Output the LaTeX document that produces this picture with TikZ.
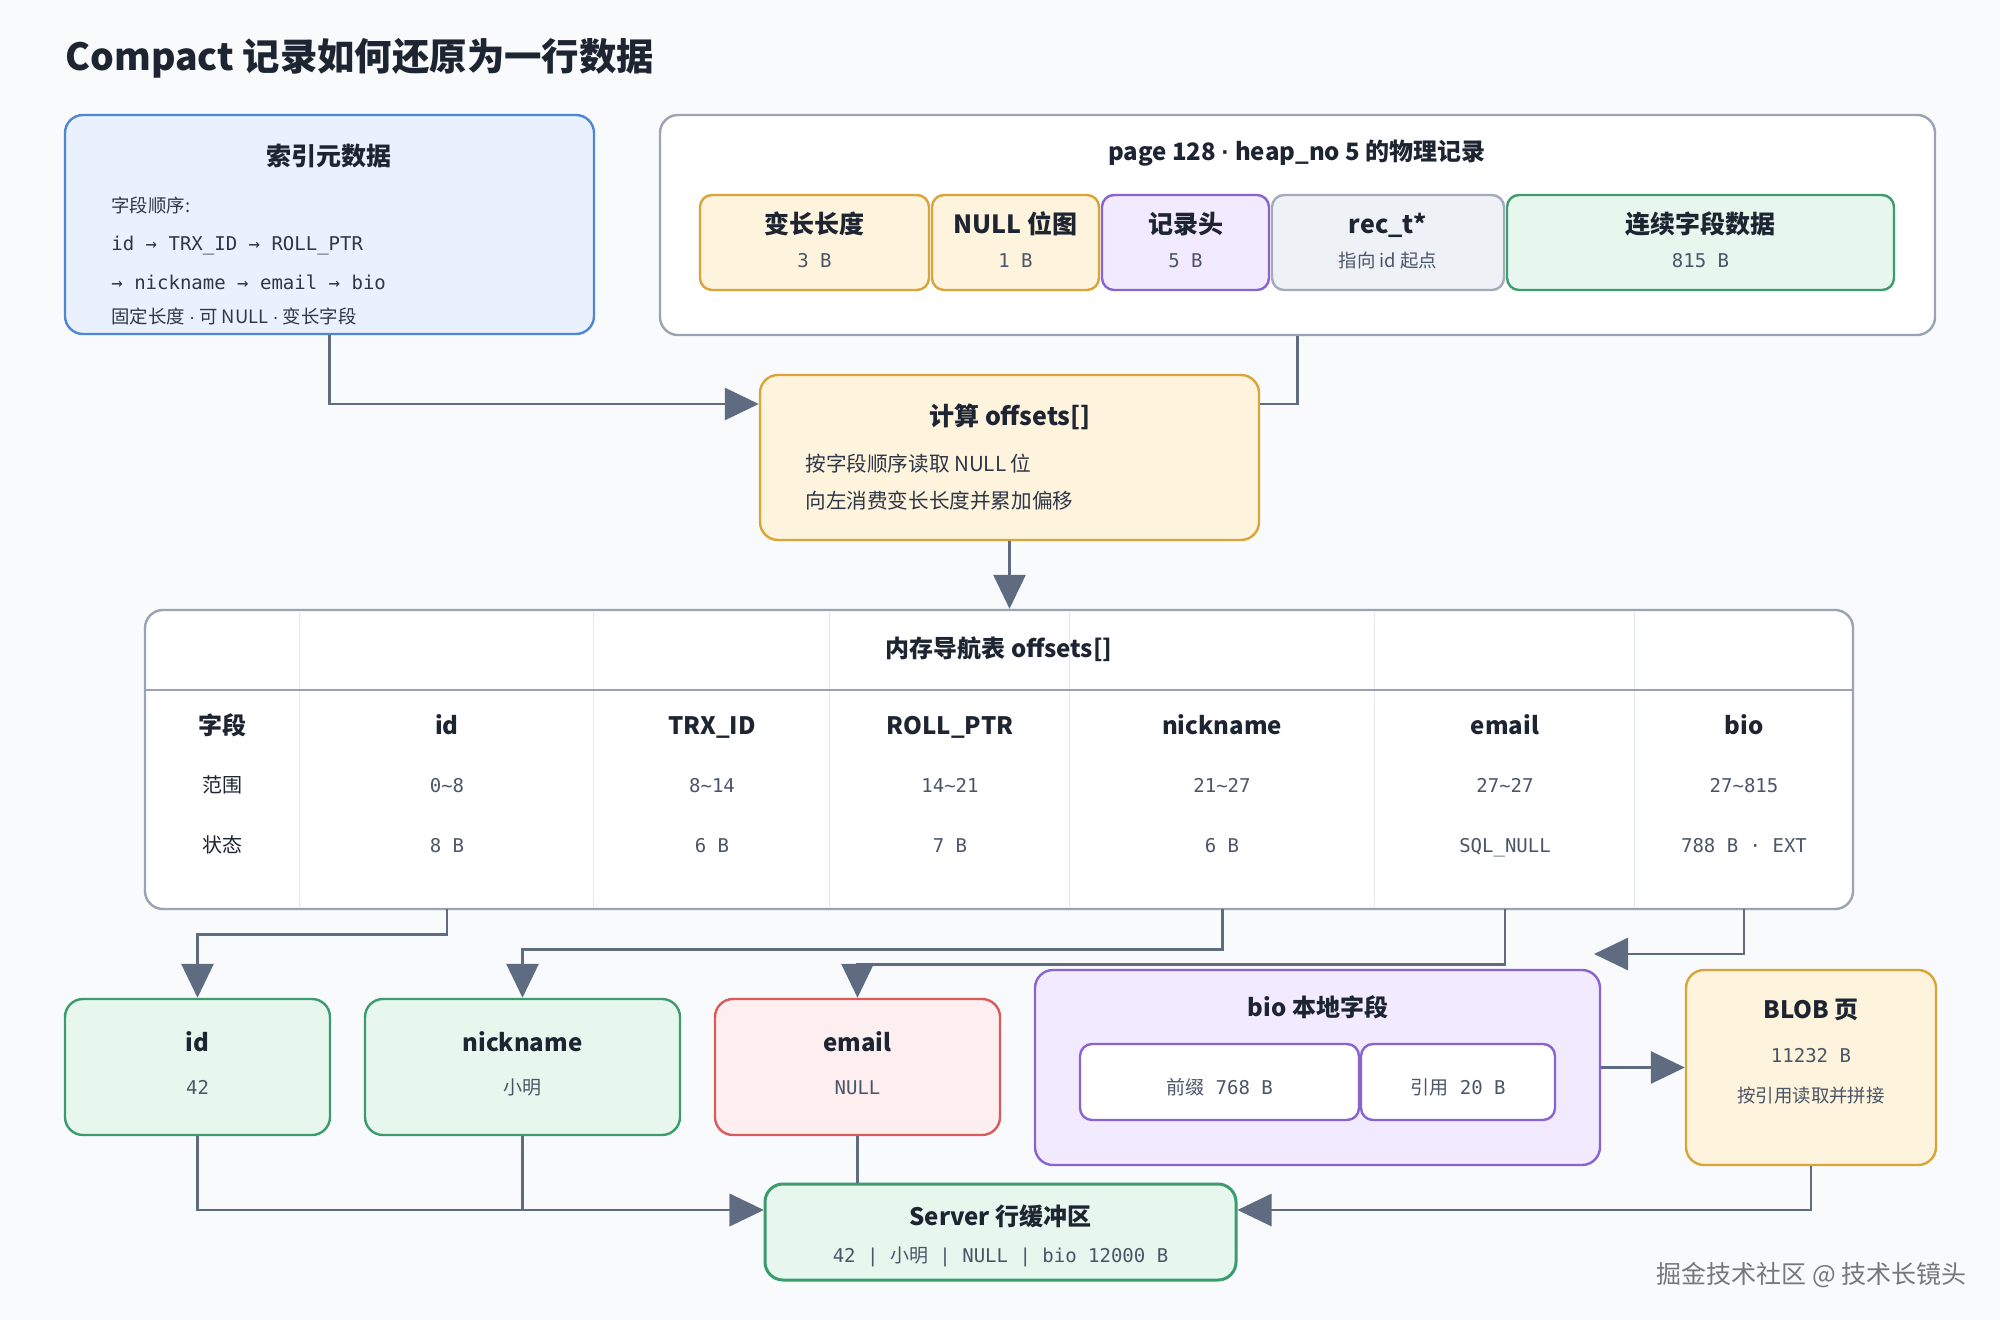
\documentclass[tikz,border=0pt]{standalone}
\usepackage{fontspec}
\setmainfont{Noto Sans CJK SC}
\newfontfamily\mono{DejaVu Sans Mono}
\newfontfamily\latin{Liberation Sans}
\newcommand{\mdot}{{\latin\textperiodcentered}}
\usetikzlibrary{fit,arrows.meta}
\definecolor{bgc}{HTML}{F8FAFC}
\definecolor{ink}{HTML}{1E2532}
\definecolor{subt}{HTML}{4A5568}
\definecolor{bodyc}{HTML}{2D3748}
\definecolor{bluef}{HTML}{E8F1FD}
\definecolor{bluel}{HTML}{4F86D6}
\definecolor{orf}{HTML}{FEF3DC}
\definecolor{orl}{HTML}{D9A43A}
\definecolor{puf}{HTML}{F2EBFF}
\definecolor{pul}{HTML}{8A63D2}
\definecolor{grf}{HTML}{EEF2F7}
\definecolor{grl}{HTML}{A3ABBA}
\definecolor{gnf}{HTML}{E7F7ED}
\definecolor{gnl}{HTML}{3D9C6E}
\definecolor{rdf}{HTML}{FDEFF0}
\definecolor{rdl}{HTML}{D95B5E}
\definecolor{framec}{HTML}{9AA3B3}
\definecolor{sepc}{HTML}{E3E8EF}
\definecolor{arrc}{HTML}{5E6B80}
\definecolor{wmc}{HTML}{777777}
\begin{document}
\begin{tikzpicture}[x=0.5pt,y=-0.5pt,
  box/.style={draw, rounded corners=9pt, line width=1.2pt, inner sep=0pt},
  sbox/.style={draw, rounded corners=6pt, line width=1.2pt, inner sep=0pt},
  bluebox/.style={fill=bluef, draw=bluel},
  orbox/.style={fill=orf, draw=orl},
  pubox/.style={fill=puf, draw=pul},
  grbox/.style={fill=grf, draw=grl},
  gnbox/.style={fill=gnf, draw=gnl},
  rdbox/.style={fill=rdf, draw=rdl},
  frbox/.style={fill=white, draw=framec},
  colf/.style={inner sep=0pt, draw=none},
  txt/.style={inner sep=0pt, text height=0.95em, text depth=0.05em},
  hd/.style={txt, font=\fontsize{12.5}{15}\selectfont\bfseries, text=ink},
  hdm/.style={txt, font=\fontsize{12}{14}\selectfont\bfseries, text=ink},
  sub/.style={txt, font=\mono\fontsize{9.5}{12}\selectfont, text=subt},
  subs/.style={txt, font=\fontsize{9.2}{11}\selectfont, text=subt},
  body/.style={txt, font=\fontsize{10.3}{12}\selectfont, text=bodyc, anchor=west},
  metab/.style={txt, font=\fontsize{9.2}{11}\selectfont, text=bodyc, anchor=west},
  metam/.style={txt, font=\mono\fontsize{9.5}{11}\selectfont, text=bodyc, anchor=west},
  rowl/.style={txt, font=\fontsize{10}{12}\selectfont, text=ink},
  conn/.style={draw=arrc, line width=1.4pt},
  arr/.style={conn, -{Triangle[length=17pt,width=16pt]}},
  sepl/.style={draw=sepc, line width=0.6pt, shorten >=1pt, shorten <=1pt},
]
\fill[bgc] (0,0) rectangle (2000,1320);
\useasboundingbox (0,0) rectangle (2000,1320);

% title
\node[txt, anchor=west, font=\fontsize{18.7}{22}\selectfont\bfseries, text=ink] (title) at (65,62) {Compact 记录如何还原为一行数据};

% metadata box
\node[box, bluebox, fit={(65,115) (594,334)}] (meta) {};
\node[hd] (metat) at (329,157) {索引元数据};
\node[metab] (m1) at (111,204) {字段顺序:};
\node[metam] (m2) at (111,242) {id → TRX\_ID → ROLL\_PTR};
\node[metam] (m3) at (111,281) {→ nickname → email → bio};
\node[metab] (m4) at (111,315) {固定长度 \mdot{} 可 NULL \mdot{} 变长字段};

% page box
\node[box, frbox, fit={(660,115) (1935,335)}] (page) {};
\node[hdm] (paget) at (1297,152) {page 128 \mdot{} heap\_no 5 的物理记录};
\node[sbox, orbox, fit={(700,195) (929,290)}] (v1) {};
\node[hd] (v1t) at (814.5,225) {变长长度};
\node[sub] (v1s) at (814.5,259) {3 B};
\node[sbox, orbox, fit={(932,195) (1099,290)}] (v2) {};
\node[hd] (v2t) at (1015.5,225) {NULL 位图};
\node[sub] (v2s) at (1015.5,259) {1 B};
\node[sbox, pubox, fit={(1102,195) (1269,290)}] (v3) {};
\node[hd] (v3t) at (1185.5,225) {记录头};
\node[sub] (v3s) at (1185.5,259) {5 B};
\node[sbox, grbox, fit={(1272,195) (1504,290)}] (v4) {};
\node[hd] (v4t) at (1388,225) {rec\_t*};
\node[subs] (v4s) at (1388,259) {指向 id 起点};
\node[sbox, gnbox, fit={(1507,195) (1894,290)}] (v5) {};
\node[hd] (v5t) at (1700.5,225) {连续字段数据};
\node[sub] (v5s) at (1700.5,259) {815 B};

% calc box
\node[box, orbox, fit={(760,375) (1259,540)}] (calc) {};
\node[hd] (calct) at (1010,417) {计算 offsets[]};
\node[body] (c1l) at (805,463) {按字段顺序读取 NULL 位};
\node[body] (c2l) at (805,500) {向左消费变长长度并累加偏移};

% table
\node[box, frbox, fit={(145,610) (1853,909)}] (tbl) {};
\node[colf, fit={(145,610) (300,909)}] (c0) {};
\node[colf, fit={(300,610) (594,909)}] (c1) {};
\node[colf, fit={(594,610) (830,909)}] (c2) {};
\node[colf, fit={(830,610) (1070,909)}] (c3) {};
\node[colf, fit={(1070,610) (1375,909)}] (c4) {};
\node[colf, fit={(1375,610) (1635,909)}] (c5) {};
\node[colf, fit={(1635,610) (1853,909)}] (c6) {};
\foreach \c in {c1,c2,c3,c4,c5,c6} \draw[sepl] (\c.north west) -- (\c.south west);
\coordinate (hdr) at (0,690);
\draw[draw=framec, line width=1.3pt] (tbl.west |- hdr) -- (tbl.east |- hdr);
\node[txt, font=\fontsize{12}{14}\selectfont\bfseries, text=ink] (tblt) at (999,648) {内存导航表 offsets[]};

\node[hdm] (r1c0) at (222,725) {字段};
\node[hdm] (r1c1) at (447,725) {id};
\node[hdm] (r1c2) at (712,725) {TRX\_ID};
\node[hdm] (r1c3) at (950,725) {ROLL\_PTR};
\node[hdm] (r1c4) at (1222,725) {nickname};
\node[hdm] (r1c5) at (1505,725) {email};
\node[hdm] (r1c6) at (1744,725) {bio};

\node[rowl] (r2c0) at (222,783) {范围};
\node[sub] (r2c1) at (447,783) {0\textasciitilde 8};
\node[sub] (r2c2) at (712,783) {8\textasciitilde 14};
\node[sub] (r2c3) at (950,783) {14\textasciitilde 21};
\node[sub] (r2c4) at (1222,783) {21\textasciitilde 27};
\node[sub] (r2c5) at (1505,783) {27\textasciitilde 27};
\node[sub] (r2c6) at (1744,783) {27\textasciitilde 815};

\node[rowl] (r3c0) at (222,843) {状态};
\node[sub] (r3c1) at (447,843) {8 B};
\node[sub] (r3c2) at (712,843) {6 B};
\node[sub] (r3c3) at (950,843) {7 B};
\node[sub] (r3c4) at (1222,843) {6 B};
\node[sub] (r3c5) at (1505,843) {SQL\_NULL};
\node[sub] (r3c6) at (1744,843) {788 B · EXT};

% bottom boxes
\node[box, gnbox, fit={(65,999) (330,1135)}] (idb) {};
\node[hdm] (idbt) at (197.5,1042) {id};
\node[sub] (idbs) at (197.5,1085) {42};
\node[box, gnbox, fit={(365,999) (680,1135)}] (nkb) {};
\node[hdm] (nkbt) at (522.5,1042) {nickname};
\node[subs, font=\fontsize{9.5}{11}\selectfont] (nkbs) at (522.5,1085) {小明};
\node[box, rdbox, fit={(715,999) (1000,1135)}] (emb) {};
\node[hdm] (embt) at (857.5,1042) {email};
\node[sub] (embs) at (857.5,1085) {NULL};

\node[box, pubox, fit={(1035,970) (1600,1165)}] (bio) {};
\node[hdm] (biot) at (1318,1007) {bio 本地字段};
\node[sbox, fill=white, draw=pul, fit={(1080,1044) (1359,1120)}] (bp1) {};
\node[subs, font=\fontsize{9.5}{11}\selectfont] (bp1t) at (1219.5,1085) {前缀{\mono\ 768 B}};
\node[sbox, fill=white, draw=pul, fit={(1361,1044) (1555,1120)}] (bp2) {};
\node[subs, font=\fontsize{9.5}{11}\selectfont] (bp2t) at (1458,1085) {引用{\mono\ 20 B}};

\node[box, orbox, fit={(1686,970) (1936,1165)}] (blob) {};
\node[hdm] (blobt) at (1811,1009) {BLOB 页};
\node[sub] (blobs) at (1811,1053) {11232 B};
\node[subs] (blobs2) at (1811,1093) {按引用读取并拼接};

\node[box, gnbox, line width=1.5pt, fit={(765,1184) (1236,1280)}] (srv) {};
\node[hdm] (srvt) at (1000.5,1216) {Server 行缓冲区};
\node[subs, font=\fontsize{9.5}{11}\selectfont] (srvs) at (1000.5,1253) {{\mono 42 | }小明{\mono\ | NULL | bio 12000 B}};

\node[txt, anchor=east, font=\fontsize{12.5}{14}\selectfont, text=wmc] (wm) at (1967,1274) {掘金技术社区 @ 技术长镜头};

% connectors
\coordinate (rowA) at (0,404);
\coordinate (rowB) at (0,1210);
\coordinate (bioin) at (1594,954);
\draw[arr] (meta.south) |- (calc.west |- rowA);
\draw[conn] (page.south) |- (calc.east |- rowA);
\draw[arr] (calc.south) -- (calc.south |- tbl.north);
\draw[arr] (c1.south) -- ++(0,25) -| (idb.north);
\draw[arr] (c4.south) -- ++(0,40) -| (nkb.north);
\draw[arr] (c5.south) -- ++(0,55) -| (emb.north);
\draw[arr] (c6.south) |- (bioin);
\draw[arr] (bio.east) -- (blob.west);
\draw[arr] (idb.south) |- (srv.west |- rowB);
\draw[arr] (nkb.south) |- (srv.west |- rowB);
\draw[conn] (emb.south) -- (emb.south |- srv.north);
\draw[arr] (blob.south) |- (srv.east |- rowB);
\end{tikzpicture}
\end{document}
